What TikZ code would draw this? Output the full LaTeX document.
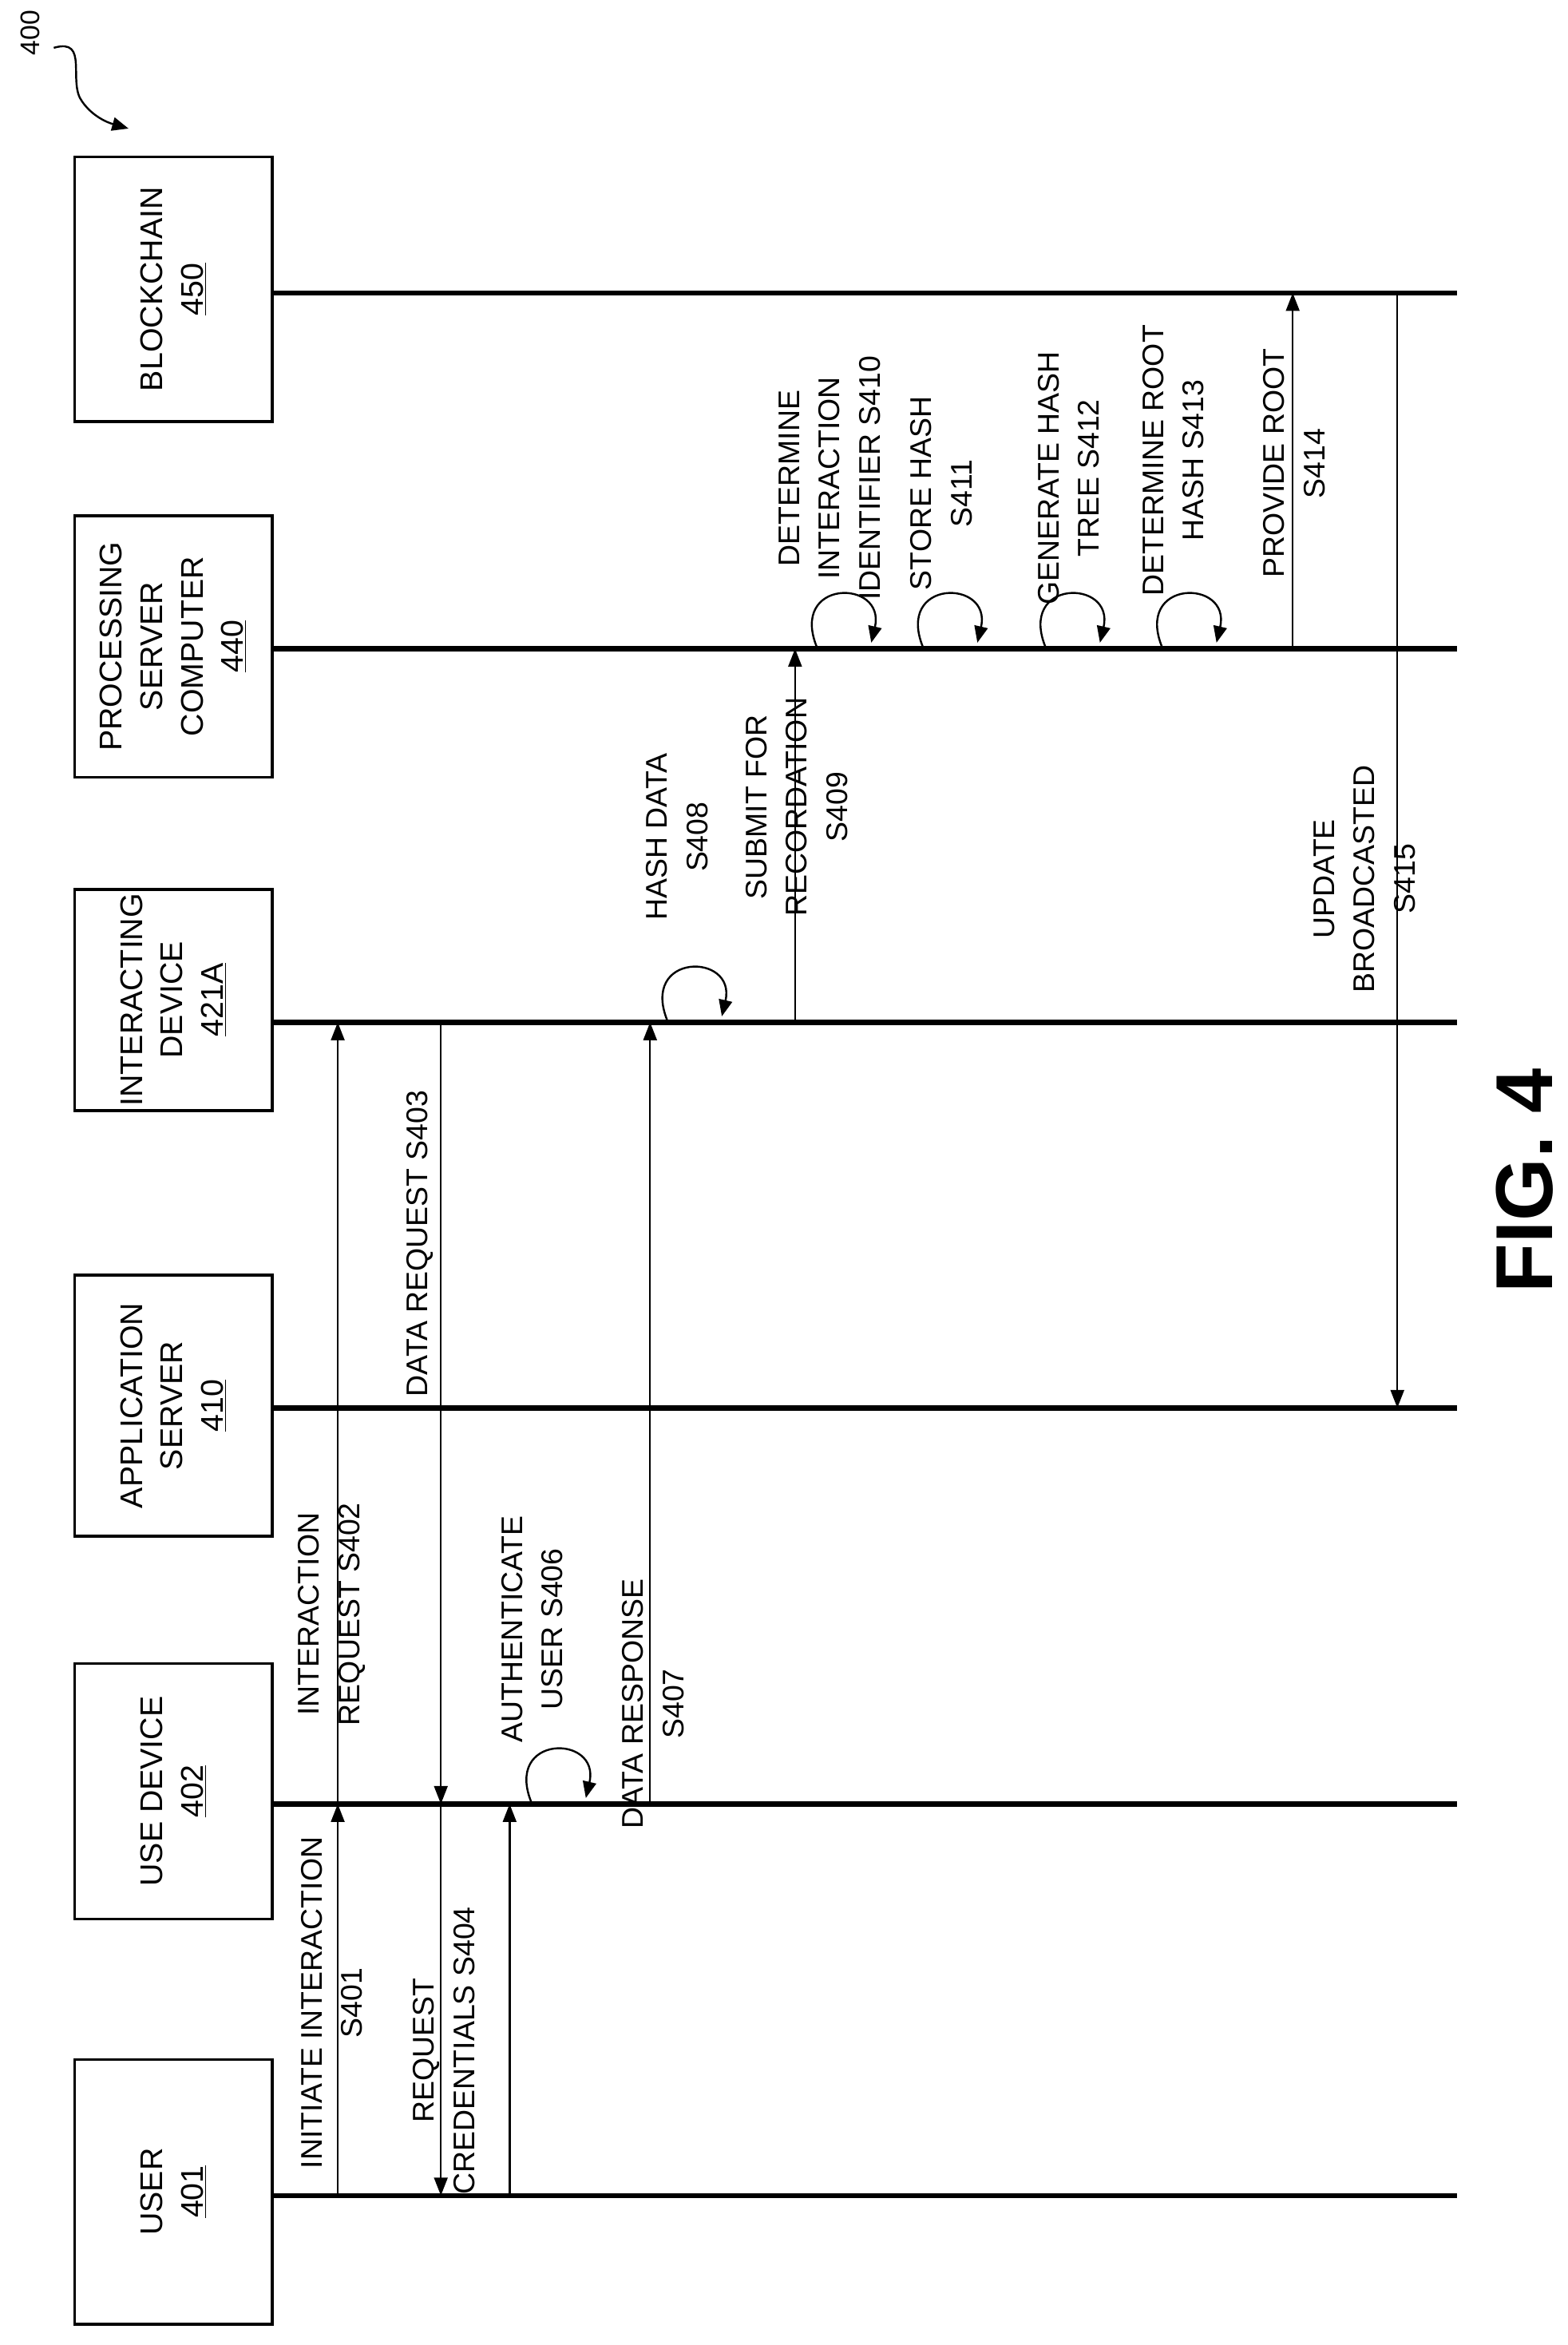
\documentclass[tikz,border=0pt]{standalone}
\usepackage{fontspec}
\setmainfont{Liberation Sans}
\usetikzlibrary{arrows.meta}
\begin{document}
\begin{tikzpicture}[x=1pt,y=-1pt,
  box/.style={draw,line width=2pt,minimum width=132pt,align=center,rotate=90,font=\fontsize{21}{27}\selectfont,inner sep=2pt},
  life/.style={line width=3.5pt},
  msg/.style={line width=1.3pt,-{Triangle[length=12pt,width=9pt]}},
  lbl/.style={rotate=90,align=center,font=\fontsize{20}{27}\selectfont,inner sep=1pt},
  loop/.style={line width=1.3pt,-{Triangle[length=11pt,width=9pt]}}]
\useasboundingbox (0,0) rectangle (1049,1569);
% boxes (rotated: minimum width is vertical extent after rotation)
\node[box,minimum width=177pt,minimum height=132pt] (b450) at (116,193.5) {BLOCKCHAIN\\\underline{450}};
\node[box,minimum width=175pt,minimum height=132pt] (b440) at (116,432.5) {PROCESSING\\SERVER\\COMPUTER\\\underline{440}};
\node[box,minimum width=148pt,minimum height=132pt] (b421) at (116,669) {INTERACTING\\DEVICE\\\underline{421A}};
\node[box,minimum width=175pt,minimum height=132pt] (b410) at (116,940.5) {APPLICATION\\SERVER\\\underline{410}};
\node[box,minimum width=171pt,minimum height=132pt] (b402) at (116,1198.5) {USE DEVICE\\\underline{402}};
\node[box,minimum width=177pt,minimum height=132pt] (b401) at (116,1466.5) {USER\\\underline{401}};
% lifelines
\coordinate (e450) at (975,196); \coordinate (e440) at (975,434);
\coordinate (e421) at (975,684); \coordinate (e410) at (975,942);
\coordinate (e402) at (975,1207); \coordinate (e401) at (975,1469);
\draw[life] (182,196) -- (e450);
\draw[life] (182,434) -- (e440);
\draw[life] (182,684) -- (e421);
\draw[life] (182,942) -- (e410);
\draw[life] (182,1207) -- (e402);
\draw[life] (182,1469) -- (e401);
% messages
\draw[msg] (226,1469) -- (226,1207);
\node[lbl] (l401) at (222,1340) {INITIATE INTERACTION\\S401};
\draw[msg] (226,1207) -- (226,684);
\node[lbl] (l402) at (222,1080) {INTERACTION\\REQUEST S402};
\draw[msg] (295,684) -- (295,1207);
\node[lbl] (l403) at (281,832) {DATA REQUEST S403};
\draw[msg] (295,1207) -- (295,1469);
\node[lbl] (l404) at (297,1372) {REQUEST\\CREDENTIALS S404};
\draw[msg] (341,1469) -- (341,1207);
% S406 loop
\draw[loop] (356,1207) .. controls (336,1160) and (402,1160) .. (392,1203);
\node[lbl] (l406) at (356,1090) {AUTHENTICATE\\USER S406};
\draw[msg] (435,1207) -- (435,684);
\node[lbl] (l407) at (437,1140) {DATA RESPONSE\\S407};
% S408
\draw[loop] (447,684) .. controls (427,637) and (493,637) .. (483,680);
\node[lbl] (l408) at (453,560) {HASH DATA\\S408};
\draw[msg] (532,684) -- (532,434);
\node[lbl] (l409) at (533,540) {SUBMIT FOR\\RECORDATION\\S409};
% S410-S413
\draw[loop] (547,434) .. controls (527,387) and (593,387) .. (583,430);
\node[lbl] (l410) at (555,320) {DETERMINE\\INTERACTION\\IDENTIFIER S410};
\draw[loop] (618,434) .. controls (598,387) and (664,387) .. (654,430);
\node[lbl] (l411) at (630,330) {STORE HASH\\S411};
\draw[loop] (700,434) .. controls (680,387) and (746,387) .. (736,430);
\node[lbl] (l412) at (715,320) {GENERATE HASH\\TREE S412};
\draw[loop] (778,434) .. controls (758,387) and (824,387) .. (814,430);
\node[lbl] (l413) at (785,308) {DETERMINE ROOT\\HASH S413};
\draw[msg] (865,434) -- (865,196);
\node[lbl] (l414) at (866,310) {PROVIDE ROOT\\S414};
\draw[msg] (935,196) -- (935,942);
\node[lbl] (l415) at (913,588) {UPDATE\\BROADCASTED\\S415};
% figure label
\node[rotate=90,font=\fontsize{54}{60}\selectfont\bfseries] (fig) at (1020,790) {FIG. 4};
\node[rotate=90,font=\fontsize{18}{22}\selectfont,inner sep=1pt] (n400) at (20,22) {400};
\coordinate (t400) at (86,86);
\draw[line width=1.3pt,-{Triangle[length=11pt,width=9pt]}] (36,32) .. controls (60,25) and (45,55) .. (55,68) .. controls (62,78) and (72,82) .. (t400);
\end{tikzpicture}
\end{document}
